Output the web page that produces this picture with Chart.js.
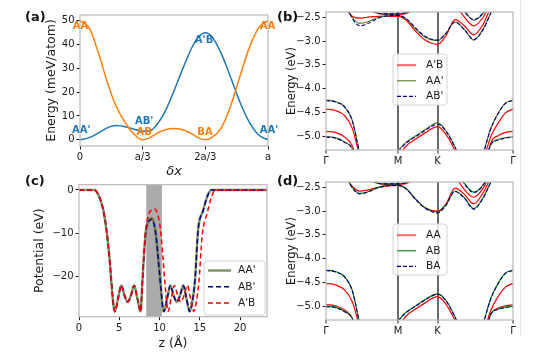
<!DOCTYPE html>
<html>
<head>
<meta charset="utf-8">
<script src="https://cdn.jsdelivr.net/npm/chart.js@4.4.1/dist/chart.umd.min.js"></script>
<style>
  html, body { margin: 0; padding: 0; background: #fff; }
  #fig { position: relative; width: 540px; height: 360px; overflow: hidden; font-family: 'DejaVu Sans', sans-serif; }
  #fig canvas { position: absolute; left: 0; top: 0; }
  .tag { position: absolute; font-weight: bold; font-size: 13px; line-height: 1; color: #111; }
  .sep { position: absolute; left: 520px; top: 0; width: 1px; height: 337px; background: #e4e4e4; }
</style>
</head>
<body>
<div id="fig">
  <div class="sep"></div>
  <canvas id="chart-a" width="540" height="360"></canvas>
  <canvas id="chart-b" width="540" height="360"></canvas>
  <canvas id="chart-c" width="540" height="360"></canvas>
  <canvas id="chart-d" width="540" height="360"></canvas>
  <div class="tag" style="left:25px;top:10px">(a)</div>
  <div class="tag" style="left:277px;top:10px">(b)</div>
  <div class="tag" style="left:25px;top:174px">(c)</div>
  <div class="tag" style="left:277px;top:174px">(d)</div>
</div>
<script>
const _ = null;

// ---- (a) stacking energy vs shift ----
const shiftX = [0, 0.05, 0.1, 0.15, 0.19, 0.25, 0.3, 0.333, 0.367, 0.4, 0.45, 0.5, 0.55, 0.6, 0.633, 0.667, 0.7, 0.75, 0.8, 0.85, 0.9, 0.95, 1];
const energyAA  = [50, 46.8, 36, 23, 14.5, 6, 1.4, 0, 0.7, 2.3, 4.1, 4.7, 4.1, 2.3, 0.7, 0, 0.9, 4.8, 14, 26.5, 38.5, 47, 50];
const energyAAp = [0, 0.9, 3, 5.2, 6, 5.3, 4.2, 3.6, 3.7, 5.5, 11.5, 20.5, 30.5, 39.5, 43.5, 45, 43.5, 36.5, 26.5, 16, 7.5, 2, 0];
const shiftTicks = [0, 1 / 3, 2 / 3, 1];
const shiftLabels = ['0', 'a/3', '2a/3', 'a'];
const energyTicks = [0, 10, 20, 30, 40, 50];

// ---- (c) planar averaged potential ----
const zAAp = [0, 1.9, 2.5, 3.0, 3.4, 3.8, 4.1, 4.3, 4.45, 4.85, 5.25, 5.65, 6.05, 6.45, 6.85, 7.25, 7.65, 7.85, 8.05, 8.3, 8.6, 9.0, 9.3, 9.6, 9.9, 10.2, 10.4, 10.55, 10.95, 11.35, 11.75, 12.15, 12.55, 12.95, 13.35, 13.75, 14.05, 14.4, 14.8, 15.4, 16.0, 16.45, 23.35];
const potAAp = [0, 0, -1.5, -4.5, -9, -16, -23, -26.8, -28, -25, -22, -24.3, -25.8, -24.3, -22, -25, -28, -22, -15.5, -9.5, -7.3, -6.5, -7.5, -11, -17, -23, -27, -28, -25, -22, -24.3, -25.8, -24.3, -22, -25, -28, -26, -21, -9, -4.8, -1.2, 0, 0];
const potABp = [0, 0, -1.5, -4.5, -9, -16, -23, -26.8, -28, -25, -22, -24.3, -25.8, -24.3, -22, -25, -28, -22, -15.6, -9.7, -7.5, -6.8, -7.7, -11.2, -17.2, -23.2, -27, -28, -25, -22, -24.3, -25.8, -24.3, -22, -25, -28, -26, -21, -9.2, -4.9, -1.2, 0, 0];
const zApB = [0, 1.9, 2.5, 3.0, 3.4, 3.8, 4.1, 4.3, 4.45, 4.85, 5.25, 5.65, 6.05, 6.45, 6.85, 7.25, 7.65, 7.85, 8.05, 8.3, 8.6, 8.9, 9.4, 9.8, 10.1, 10.4, 10.7, 10.9, 11.05, 11.45, 11.85, 12.25, 12.65, 13.05, 13.45, 13.85, 14.25, 14.55, 14.9, 15.3, 15.9, 16.5, 16.95, 23.35];
const potApB = [0, 0, -1.5, -4.5, -9, -16, -23, -26.8, -28, -25, -22, -24.3, -25.8, -24.3, -22, -25, -28, -22, -15, -9, -6, -4.8, -4.4, -5.8, -8.8, -15, -22, -26, -28, -25, -22, -24.3, -25.8, -24.3, -22, -25, -28, -26, -21, -10.5, -5.5, -1.4, 0, 0];
const zShade = [8.35, 10.3];
const zTicks = [0, 5, 10, 15, 20];
const potTicks = [-20, -10, 0];

// ---- (b),(d) band structures ----
const kPath = [0, 0.05, 0.1, 0.14, 0.18, 0.22, 0.28, 0.33, 0.385, 0.43, 0.48, 0.53, 0.597, 0.64, 0.69, 0.74, 0.79, 0.84, 0.88, 0.92, 0.96, 1];
const kTicks = [0, 0.385, 0.597, 1];
const kLabels = ['\u0393', 'M', 'K', '\u0393'];
const bandTicks = [-5.0, -4.5, -4.0, -3.5, -3.0, -2.5];

const bandsApB = [
  [-1.9, -2.0, -2.3, -2.48, -2.52, -2.5, -2.48, -2.48, -2.48, -2.57, -2.8, -2.98, -3.07, -2.9, -2.55, -2.68, -2.87, -2.65, -2.3, -2.0, -1.9, -1.8],
  [_, _, _, _, _, _, _, _, _, _, _, _, _, _, -2.2, -2.5, -2.68, -2.5, -2.2, _, _, _],
  [_, _, _, _, _, -2.25, -2.42, -2.44, -2.44, -2.42, -2.3, _, _, _, _, _, _, _, _, _, _, _],
  [-4.43, -4.46, -4.57, -4.83, -5.42, -6.1, _, _, _, _, _, _, _, _, _, _, _, -5.55, -5.02, -4.73, -4.51, -4.43],
  [-4.9, -4.92, -5.02, -5.2, -5.7, _, _, _, _, _, _, _, _, _, _, _, _, -6.0, -5.15, -4.99, -4.92, -4.9],
  [_, _, _, _, _, _, _, _, -5.42, -5.2, -5.06, -4.93, -4.8, -4.95, -5.3, -5.75, _, _, _, _, _, _]
];
const bandsAAp = [
  [-1.9, -2.0, -2.22, -2.5, -2.63, -2.6, -2.5, -2.47, -2.46, -2.54, -2.75, -2.92, -2.99, -2.85, -2.6, -2.76, -2.98, -2.75, -2.42, -2.1, -1.9, -1.8],
  [_, _, _, _, _, _, _, _, _, _, _, _, _, _, -2.1, -2.38, -2.56, -2.42, -2.15, _, _, _],
  [_, _, _, _, _, -2.3, -2.42, -2.43, -2.43, -2.4, -2.3, _, _, _, _, _, _, _, _, _, _, _],
  [-4.24, -4.27, -4.38, -4.66, -5.35, -6.0, _, _, _, _, _, _, _, _, _, _, _, -5.38, -4.85, -4.52, -4.3, -4.24],
  [-5.01, -5.03, -5.12, -5.26, -5.8, _, _, _, _, _, _, _, _, _, _, _, _, -5.8, -5.18, -5.07, -5.03, -5.01],
  [_, _, _, _, _, _, _, _, -5.3, -5.12, -4.99, -4.86, -4.72, -4.87, -5.22, -5.7, _, _, _, _, _, _]
];
const bandsABp = [
  [-1.9, -2.0, -2.18, -2.52, -2.68, -2.64, -2.52, -2.47, -2.46, -2.53, -2.73, -2.9, -2.98, -2.84, -2.6, -2.76, -2.97, -2.76, -2.42, -2.1, -1.9, -1.8],
  [_, _, _, _, _, _, _, _, _, _, _, _, _, _, -2.1, -2.37, -2.55, -2.41, -2.14, _, _, _],
  [_, _, _, _, _, -2.3, -2.42, -2.43, -2.43, -2.4, -2.3, _, _, _, _, _, _, _, _, _, _, _],
  [-4.25, -4.28, -4.39, -4.67, -5.36, -6.0, _, _, _, _, _, _, _, _, _, _, _, -5.39, -4.86, -4.53, -4.31, -4.25],
  [-5.02, -5.04, -5.13, -5.27, -5.8, _, _, _, _, _, _, _, _, _, _, _, _, -5.8, -5.19, -5.08, -5.04, -5.02],
  [_, _, _, _, _, _, _, _, -5.32, -5.14, -5.01, -4.88, -4.75, -4.89, -5.24, -5.72, _, _, _, _, _, _]
];

const bandsAA = [
  [-1.9, -2.0, -2.25, -2.48, -2.58, -2.56, -2.5, -2.47, -2.46, -2.54, -2.76, -2.93, -3.0, -2.86, -2.52, -2.65, -2.85, -2.62, -2.3, -2.0, -1.9, -1.8],
  [_, _, _, _, _, _, _, _, _, _, _, _, _, _, -2.25, -2.55, -2.71, -2.52, -2.2, _, _, _],
  [_, _, _, _, _, -2.28, -2.42, -2.44, -2.44, -2.42, -2.3, _, _, _, _, _, _, _, _, _, _, _],
  [-4.52, -4.55, -4.66, -4.9, -5.45, -6.1, _, _, _, _, _, _, _, _, _, _, _, -5.6, -5.1, -4.8, -4.6, -4.52],
  [-4.97, -4.99, -5.08, -5.25, -5.75, _, _, _, _, _, _, _, _, _, _, _, _, -5.8, -5.18, -5.04, -4.99, -4.97],
  [_, _, _, _, _, _, _, _, -5.42, -5.2, -5.06, -4.93, -4.8, -4.95, -5.3, -5.75, _, _, _, _, _, _]
];
const bandsAB = [
  [-1.9, -2.0, -2.2, -2.5, -2.63, -2.6, -2.5, -2.46, -2.45, -2.53, -2.75, -2.93, -3.02, -2.88, -2.58, -2.72, -2.95, -2.72, -2.4, -2.1, -1.9, -1.8],
  [_, _, _, _, _, _, _, _, _, _, _, _, _, _, -2.12, -2.42, -2.6, -2.45, -2.15, _, _, _],
  [_, _, _, _, _, -2.3, -2.42, -2.43, -2.43, -2.4, -2.3, _, _, _, _, _, _, _, _, _, _, _],
  [-4.24, -4.27, -4.38, -4.66, -5.35, -6.0, _, _, _, _, _, _, _, _, _, _, _, -5.38, -4.85, -4.52, -4.3, -4.24],
  [-5.0, -5.02, -5.11, -5.25, -5.8, _, _, _, _, _, _, _, _, _, _, _, _, -5.8, -5.17, -5.06, -5.02, -5.0],
  [_, _, _, _, _, _, _, _, -5.3, -5.12, -4.99, -4.86, -4.74, -4.87, -5.22, -5.7, _, _, _, _, _, _]
];
const bandsBA = [
  [-1.9, -2.0, -2.21, -2.51, -2.64, -2.61, -2.51, -2.47, -2.46, -2.54, -2.76, -2.94, -3.04, -2.89, -2.59, -2.73, -2.96, -2.73, -2.41, -2.1, -1.9, -1.8],
  [_, _, _, _, _, _, _, _, _, _, _, _, _, _, -2.13, -2.43, -2.61, -2.46, -2.16, _, _, _],
  [_, _, _, _, _, -2.3, -2.42, -2.43, -2.43, -2.4, -2.3, _, _, _, _, _, _, _, _, _, _, _],
  [-4.25, -4.28, -4.39, -4.67, -5.36, -6.0, _, _, _, _, _, _, _, _, _, _, _, -5.39, -4.86, -4.53, -4.31, -4.25],
  [-5.01, -5.03, -5.12, -5.26, -5.8, _, _, _, _, _, _, _, _, _, _, _, _, -5.8, -5.18, -5.07, -5.03, -5.01],
  [_, _, _, _, _, _, _, _, -5.31, -5.13, -5.0, -4.87, -4.75, -4.88, -5.23, -5.71, _, _, _, _, _, _]
];

// ---- styling ----
Chart.defaults.font.family = 'DejaVu Sans';
Chart.defaults.font.size = 10;
Chart.defaults.color = '#1a1a1a';
Chart.defaults.animation = false;
Chart.defaults.plugins.legend.display = false;
Chart.defaults.plugins.tooltip.enabled = false;

const INK = '#1a1a1a';
const minus = v => String(v).replace('-', '\u2212');

function axis(o) {
  return {
    type: 'linear',
    min: o.min,
    max: o.max,
    afterBuildTicks: s => { s.ticks = o.ticks.map(v => ({ value: v })); },
    afterFit: s => { if (o.w) s.width = o.w; if (o.h) s.height = o.h; },
    ticks: {
      callback: o.labels ? (v, i) => o.labels[i] : (o.fmt || (v => minus(v))),
      padding: 2, color: INK, maxRotation: 0, autoSkip: false, font: { size: 10 }
    },
    grid: o.grid || { drawOnChartArea: false, color: INK, tickLength: 3.5, lineWidth: 1 },
    border: { display: false },
    title: o.title
      ? { display: true, text: o.title, color: INK, padding: 0, font: { size: o.titleSize || 12.5, style: o.italic ? 'italic' : 'normal' } }
      : { display: false }
  };
}

function line(xs, ys, style) {
  return Object.assign({
    data: xs.map((x, i) => ({ x: x, y: ys[i] })),
    pointRadius: 0, fill: false, cubicInterpolationMode: 'monotone', borderCapStyle: 'butt'
  }, style);
}

const frame = {
  id: 'frame',
  afterDraw(chart) {
    const { ctx, chartArea: a } = chart;
    ctx.save();
    ctx.strokeStyle = '#b8b8b8';
    ctx.lineWidth = 1.2;
    ctx.strokeRect(a.left, a.top, a.right - a.left, a.bottom - a.top);
    ctx.restore();
  }
};

const boxLegend = {
  id: 'boxLegend',
  afterDraw(chart, args, o) {
    if (!o.items) return;
    const ctx = chart.ctx;
    ctx.save();
    ctx.beginPath();
    if (ctx.roundRect) ctx.roundRect(o.x, o.y, o.w, o.h, 3); else ctx.rect(o.x, o.y, o.w, o.h);
    ctx.fillStyle = 'rgba(255,255,255,0.85)';
    ctx.fill();
    ctx.strokeStyle = '#d4d4d4';
    ctx.lineWidth = 1;
    ctx.stroke();
    o.items.forEach((it, i) => {
      const y = o.y + o.first + i * o.gap;
      ctx.beginPath();
      ctx.setLineDash(it.borderDash || []);
      ctx.strokeStyle = it.legendColor || it.borderColor;
      ctx.lineWidth = it.legendWidth || it.borderWidth;
      ctx.moveTo(o.x + 4, y);
      ctx.lineTo(o.x + 4 + o.line, y);
      ctx.stroke();
      ctx.setLineDash([]);
      ctx.fillStyle = INK;
      ctx.font = '10.5px "DejaVu Sans"';
      ctx.textBaseline = 'middle';
      ctx.textAlign = 'left';
      ctx.fillText(it.label, o.x + o.textX, y);
    });
    ctx.restore();
  }
};

// ---- (a) ----
const orange = '#ff7f0e', blue = '#1f77b4';
const tagsA = [
  { text: 'AA', x: 0.003, y: 47.5, color: orange },
  { text: 'AA', x: 0.997, y: 47.5, color: orange },
  { text: "A'B", x: 0.66, y: 41.9, color: blue },
  { text: "AB'", x: 0.341, y: 7.9, color: blue },
  { text: 'AB', x: 0.341, y: 3.0, color: orange },
  { text: 'BA', x: 0.665, y: 3.2, color: orange },
  { text: "AA'", x: 0.007, y: 4.1, color: blue },
  { text: "AA'", x: 1.005, y: 4.1, color: blue }
];
const stackTags = {
  id: 'stackTags',
  afterDatasetsDraw(chart) {
    const { ctx, scales } = chart;
    ctx.save();
    ctx.font = 'bold 10px "DejaVu Sans"';
    ctx.textAlign = 'center';
    ctx.textBaseline = 'middle';
    tagsA.forEach(t => {
      ctx.fillStyle = t.color;
      ctx.fillText(t.text, scales.x.getPixelForValue(t.x), scales.y.getPixelForValue(t.y));
    });
    ctx.restore();
  }
};

new Chart(document.getElementById('chart-a'), {
  type: 'line',
  data: {
    datasets: [
      line(shiftX, energyAA, { borderColor: orange, borderWidth: 1.5 }),
      line(shiftX, energyAAp, { borderColor: blue, borderWidth: 1.5 })
    ]
  },
  options: {
    responsive: false,
    layout: { padding: { left: 44, right: 272, top: 15, bottom: 181 } },
    scales: {
      x: axis({ min: 0, max: 1, ticks: shiftTicks, labels: shiftLabels, h: 33, title: '\u03b4x', italic: true, titleSize: 13 }),
      y: axis({ min: -2.6, max: 52.4, ticks: energyTicks, w: 36, title: 'Energy (meV/atom)', titleSize: 12.5 })
    }
  },
  plugins: [stackTags, frame]
});

// ---- (c) ----
const shade = {
  id: 'shade',
  beforeDatasetsDraw(chart) {
    const { ctx, chartArea: a, scales } = chart;
    const x0 = scales.x.getPixelForValue(zShade[0]), x1 = scales.x.getPixelForValue(zShade[1]);
    ctx.save();
    ctx.fillStyle = '#ababab';
    ctx.fillRect(x0, a.top, x1 - x0, a.bottom - a.top);
    ctx.restore();
  }
};
const styleC = {
  AAp: { label: "AA'", borderColor: 'rgba(85,107,47,0.72)', borderWidth: 2.5 },
  ABp: { label: "AB'", borderColor: 'navy', borderWidth: 1.5, borderDash: [5, 3] },
  ApB: { label: "A'B", borderColor: 'red', borderWidth: 1.5, borderDash: [5, 3] }
};
new Chart(document.getElementById('chart-c'), {
  type: 'line',
  data: {
    datasets: [
      line(zApB, potApB, styleC.ApB),
      line(zAAp, potABp, styleC.ABp),
      line(zAAp, potAAp, styleC.AAp)
    ]
  },
  options: {
    responsive: false,
    layout: { padding: { left: 32.5, right: 273, top: 184.7, bottom: 9 } },
    scales: {
      x: axis({ min: 0, max: 23.35, ticks: zTicks, h: 34.3, title: 'z (\u00c5)', titleSize: 12.5 }),
      y: axis({ min: -29.2, max: 1.2, ticks: potTicks, w: 46.5, title: 'Potential (eV)', titleSize: 12.5 })
    },
    plugins: {
      boxLegend: { x: 204, y: 261, w: 61, h: 54, first: 9.5, gap: 16.3, line: 23, textX: 34, items: [styleC.AAp, styleC.ABp, styleC.ApB] }
    }
  },
  plugins: [shade, frame, boxLegend]
});

// ---- (b), (d) ----
function bandChart(id, top, series, legendY) {
  const sets = [];
  series.slice().reverse().forEach(s => s.bands.forEach(b => sets.push(line(kPath, b, s.style))));
  return new Chart(document.getElementById(id), {
    type: 'line',
    data: { datasets: sets },
    options: {
      responsive: false,
      layout: { padding: { left: 284.8, right: 27, top: top, bottom: 360 - top - 138 - 20 } },
      scales: {
        x: axis({
          min: 0, max: 1, ticks: kTicks, labels: kLabels, h: 20,
          grid: {
            drawOnChartArea: true,
            color: c => (c.tick && c.tick.value > 0 && c.tick.value < 1) ? '#6a6a6a' : 'rgba(0,0,0,0)',
            lineWidth: 2, tickColor: INK, tickWidth: 1, tickLength: 3.5
          }
        }),
        y: axis({ min: -5.29, max: -2.39, ticks: bandTicks, w: 41.2, fmt: v => minus(v.toFixed(1)), title: 'Energy (eV)', titleSize: 11.5 })
      },
      plugins: {
        boxLegend: {
          x: 393, y: legendY, w: 54, h: 51, first: 11.2, gap: 15.6, line: 19, textX: 33,
          items: series.map(s => Object.assign({ label: s.label }, s.style))
        }
      }
    },
    plugins: [frame, boxLegend]
  });
}

const redBand = { borderColor: 'red', borderWidth: 1.2, legendColor: 'rgba(255,0,0,0.6)', legendWidth: 2 };
const navyBand = { borderColor: 'navy', borderWidth: 1.1, borderDash: [4, 2] };

bandChart('chart-b', 12, [
  { label: "A'B", bands: bandsApB, style: redBand },
  { label: "AA'", bands: bandsAAp, style: { borderColor: '#4f7a2a', borderWidth: 1.1 } },
  { label: "AB'", bands: bandsABp, style: navyBand }
], 54);

bandChart('chart-d', 182, [
  { label: 'AA', bands: bandsAA, style: redBand },
  { label: 'AB', bands: bandsAB, style: { borderColor: 'green', borderWidth: 1.1 } },
  { label: 'BA', bands: bandsBA, style: navyBand }
], 224);
</script>
</body>
</html>
